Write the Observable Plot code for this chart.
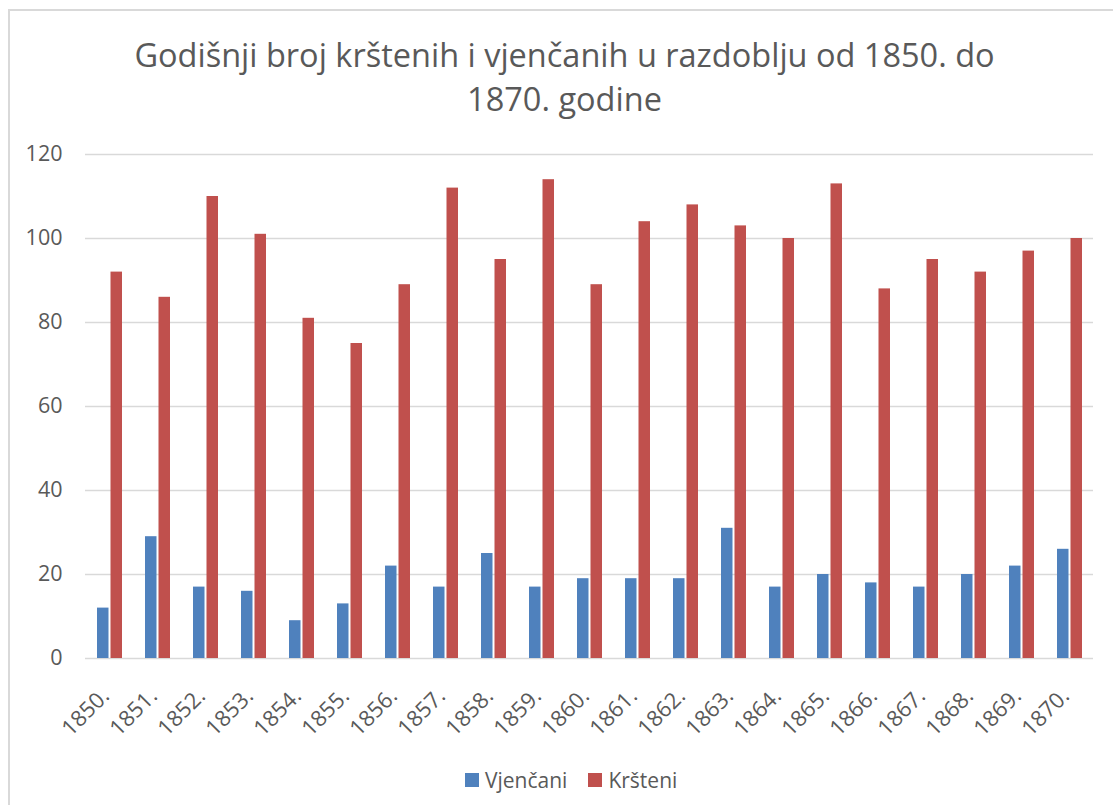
<!DOCTYPE html>
<html>
<head>
<meta charset="utf-8">
<script src="https://cdn.jsdelivr.net/npm/d3@7"></script>
<script src="https://cdn.jsdelivr.net/npm/@observablehq/plot@0.6"></script>
<style>
  html, body { margin: 0; padding: 0; background: #fff; overflow: hidden; }
  #wrap { position: relative; width: 1113px; height: 805px; font-family: "Open Sans", sans-serif; color: #595959; }
  #frame { position: absolute; left: 8px; top: 9px; right: -10px; bottom: -10px; border-left: 2px solid #d9d9d9; border-top: 2px solid #d9d9d9; pointer-events: none; }
  #title { height: 130px; box-sizing: border-box; padding-top: 33px; padding-left: 16px; text-align: center; font-size: 32.5px; line-height: 44px; }
  #chart svg { display: block; }
  #legend { position: relative; height: 44px; display: flex; align-items: center; padding-left: 465px; font-size: 21px; }
  .item { display: flex; align-items: center; }
  .sw { width: 14px; height: 14px; margin-right: 6px; }
</style>
</head>
<body>
<div id="wrap">
  <div id="frame"></div>
  <div id="title"></div>
  <div id="chart"></div>
  <div id="legend"></div>
</div>
<script>
const titleLines = ["Godišnji broj krštenih i vjenčanih u razdoblju od 1850. do", "1870. godine"];
const years = ["1850.", "1851.", "1852.", "1853.", "1854.", "1855.", "1856.", "1857.", "1858.", "1859.", "1860.",
               "1861.", "1862.", "1863.", "1864.", "1865.", "1866.", "1867.", "1868.", "1869.", "1870."];
const vjencani = [12, 29, 17, 16, 9, 13, 22, 17, 25, 17, 19, 19, 19, 31, 17, 20, 18, 17, 20, 22, 26];
const krsteni = [92, 86, 110, 101, 81, 75, 89, 112, 95, 114, 89, 104, 108, 103, 100, 113, 88, 95, 92, 97, 100];
const seriesNames = ["Vjenčani", "Kršteni"];
const seriesColors = ["#4f81bd", "#c0504d"];
const yTicks = [0, 20, 40, 60, 80, 100, 120];

const titleEl = document.getElementById("title");
titleLines.forEach(t => { const d = document.createElement("div"); d.textContent = t; titleEl.appendChild(d); });

const rowsV = years.map((y, i) => ({year: y, series: seriesNames[0], value: vjencani[i]}));
const rowsK = years.map((y, i) => ({year: y, series: seriesNames[1], value: krsteni[i]}));

const hasAxisMarks = typeof Plot.axisX === "function";
const marks = [
  Plot.ruleY(yTicks, {stroke: "#d9d9d9", strokeWidth: 1.5}),
  Plot.barY(rowsV, {x: "year", y: "value", fill: "series", insetRight: 13.5}),
  Plot.barY(rowsK, {x: "year", y: "value", fill: "series", insetLeft: 13.5})
];
if (hasAxisMarks) {
  marks.push(Plot.axisY({ticks: yTicks, tickSize: 0, tickPadding: 23, fontSize: 21.5, fill: "#595959", label: null}));
  marks.push(Plot.axisX({tickSize: 0, tickPadding: 34, tickRotate: -45, textAnchor: "end", lineAnchor: "middle",
                         dx: -4.5, fontSize: 22, fill: "#595959", label: null}));
}

const chart = Plot.plot({
  width: 1113,
  height: 628,
  marginTop: 24,
  marginBottom: 100,
  marginLeft: 85,
  marginRight: 20,
  style: {fontFamily: "Open Sans", fontSize: "21.5px", color: "#595959", background: "transparent", overflow: "visible"},
  x: {domain: years, paddingInner: 0.48, paddingOuter: 0.24, tickSize: 0, tickPadding: 27, tickRotate: -45, label: null},
  y: {domain: [0, 120], ticks: yTicks, tickSize: 0, tickPadding: 23, label: null},
  color: {domain: seriesNames, range: seriesColors},
  marks
});
document.getElementById("chart").appendChild(chart);

const legendEl = document.getElementById("legend");
seriesNames.forEach((name, i) => {
  const item = document.createElement("div");
  item.className = "item";
  item.style.marginRight = i === 0 ? "21px" : "0";
  const sw = document.createElement("div");
  sw.className = "sw";
  sw.style.background = seriesColors[i];
  const lab = document.createElement("span");
  lab.textContent = name;
  item.appendChild(sw); item.appendChild(lab);
  legendEl.appendChild(item);
});
</script>
</body>
</html>
